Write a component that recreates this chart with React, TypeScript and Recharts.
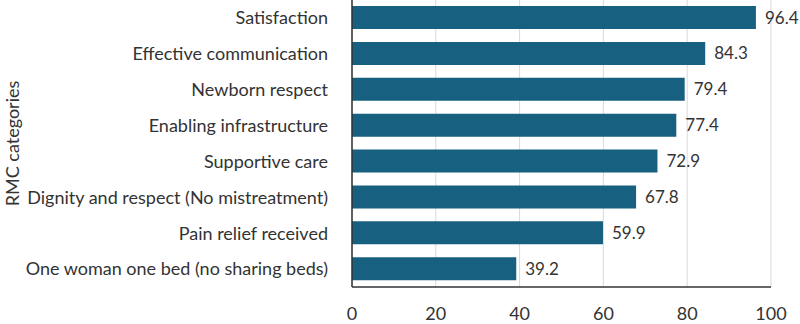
import React from 'react';
import { BarChart, Bar, XAxis, YAxis, CartesianGrid, LabelList, Label } from 'recharts';

const categories = [
  'Satisfaction',
  'Effective communication',
  'Newborn respect',
  'Enabling infrastructure',
  'Supportive care',
  'Dignity and respect (No mistreatment)',
  'Pain relief received',
  'One woman one bed (no sharing beds)',
];
const values = [96.4, 84.3, 79.4, 77.4, 72.9, 67.8, 59.9, 39.2];
const xTicks = [0, 20, 40, 60, 80, 100];

const data = categories.map((name, i) => ({ name, value: values[i] }));

const font = 'Lato, "Open Sans", sans-serif';

const App: React.FC = () => {
  return (
    <div style={{ position: 'absolute', left: 0, top: 0, width: 800, height: 324, background: '#fff', fontFamily: font }}>
      <BarChart
        width={800}
        height={324}
        data={data}
        layout="vertical"
        margin={{ top: 0, right: 29, left: 0, bottom: 0 }}
      >
        <CartesianGrid horizontal={false} stroke="#d9d9d9" strokeWidth={1} />
        <XAxis
          type="number"
          domain={[0, 100]}
          ticks={xTicks}
          tickLine={false}
          axisLine={{ stroke: '#333', strokeWidth: 1.5 }}
          tick={{ fill: '#333', fontSize: 18, fontFamily: font }}
          tickMargin={14}
          height={37}
        />
        <YAxis
          type="category"
          dataKey="name"
          width={352}
          tickLine={false}
          axisLine={{ stroke: '#333', strokeWidth: 1.5 }}
          tick={{ fill: '#333', fontSize: 18, fontFamily: font }}
          tickMargin={18}
        >
          <Label
            value="RMC categories"
            angle={-90}
            position="insideLeft"
            offset={13}
            style={{ textAnchor: 'middle', fill: '#333', fontSize: 18, fontFamily: font }}
          />
        </YAxis>
        <Bar dataKey="value" fill="#17607f" barSize={23} isAnimationActive={false}>
          <LabelList
            dataKey="value"
            position="right"
            offset={9}
            formatter={(v: number) => v.toFixed(1)}
            style={{ fill: '#333', fontSize: 17, fontFamily: font }}
          />
        </Bar>
      </BarChart>
    </div>
  );
};

export default App;
